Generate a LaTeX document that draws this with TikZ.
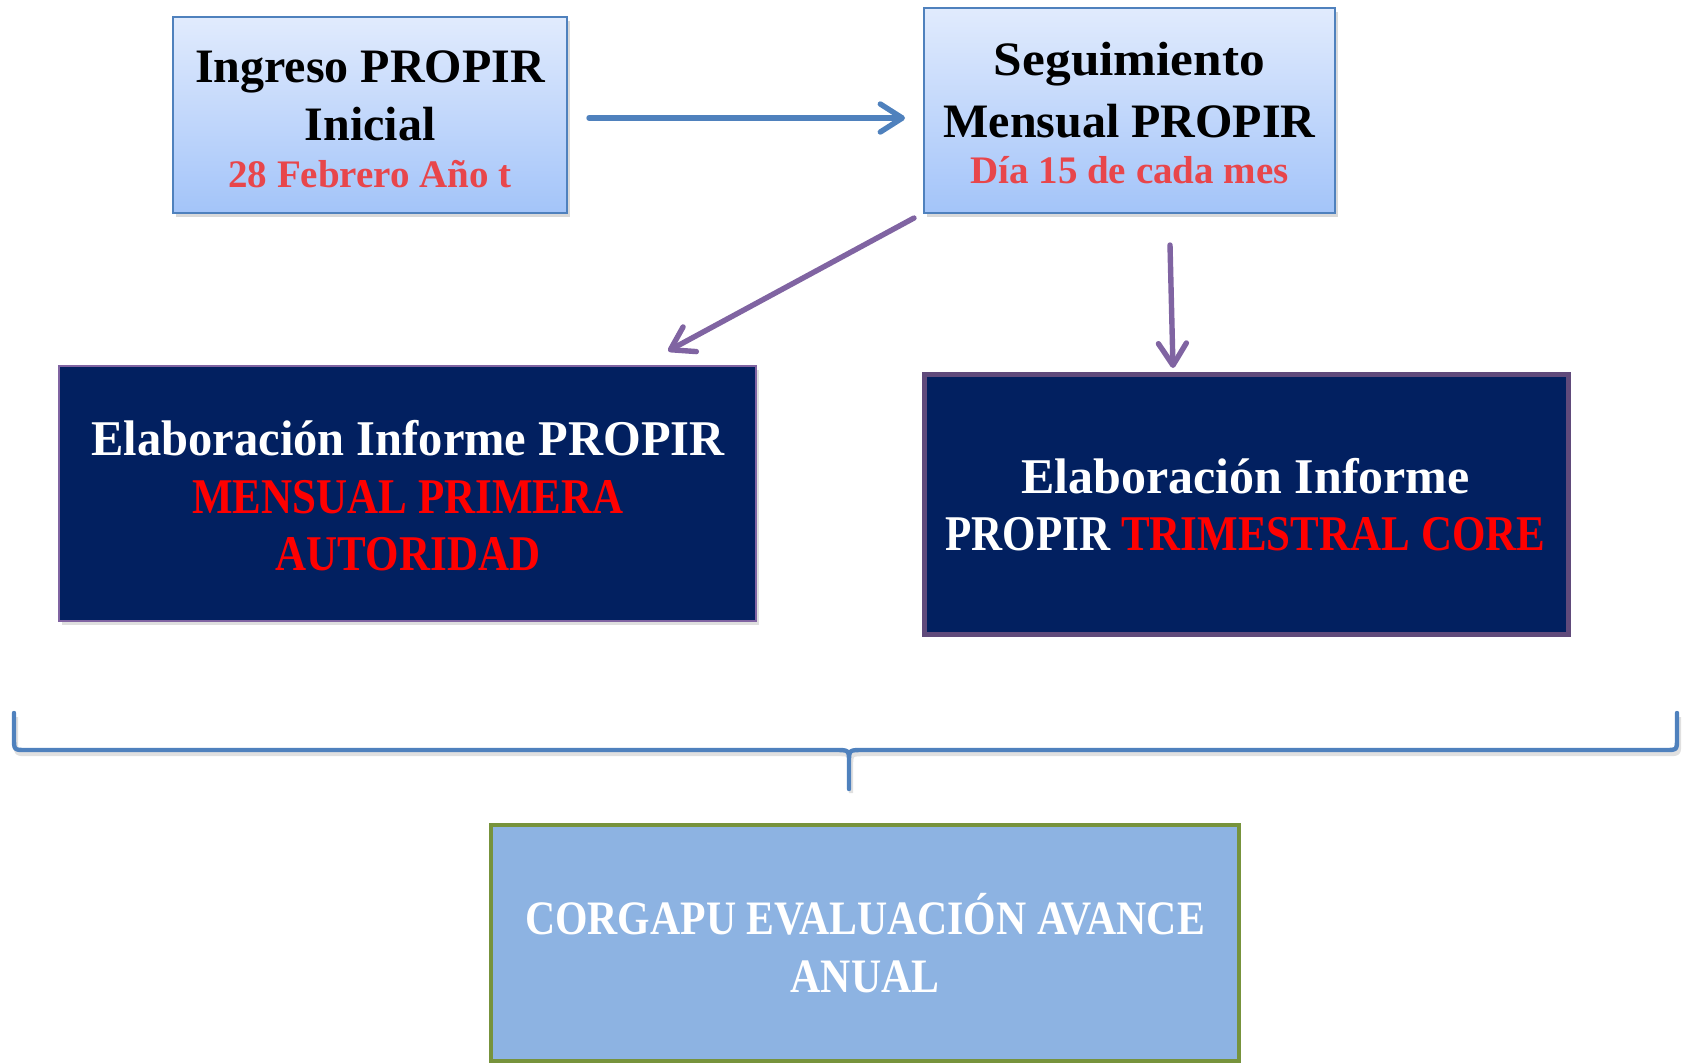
\documentclass[tikz,border=0pt]{standalone}
\usepackage{fontspec}
\setmainfont{Liberation Serif}
\newfontfamily\stretchA[FakeStretch=0.97]{Liberation Serif}
\newfontfamily\stretchD[FakeStretch=1.0]{Liberation Serif}
\newfontfamily\stretchB[FakeStretch=0.86]{Liberation Serif}
\newfontfamily\stretchC[FakeStretch=0.87]{Liberation Serif}
\newfontfamily\stretchE[FakeStretch=1.07]{Liberation Serif}
\usetikzlibrary{arrows.meta,shadows}
\definecolor{lineblue}{RGB}{79,129,189}
\definecolor{arrpurple}{RGB}{128,100,162}
\definecolor{navy}{RGB}{2,32,96}
\definecolor{boxpurple}{RGB}{96,74,123}
\definecolor{olive}{RGB}{119,147,60}
\definecolor{fillblue}{RGB}{141,179,226}
\definecolor{lighttop}{RGB}{225,235,253}
\definecolor{lightbot}{RGB}{163,196,249}
\definecolor{softred}{RGB}{232,70,75}
\definecolor{purered}{RGB}{255,0,0}
\tikzset{
  lightbox/.style={draw=lineblue, line width=1pt, top color=lighttop, bottom color=lightbot,
    inner sep=0pt, outer sep=0pt, drop shadow={shadow xshift=1.5pt, shadow yshift=-2pt, opacity=0.3}},
  darkbox/.style={fill=navy, inner sep=0pt, outer sep=0pt},
  blacktxt/.style={anchor=base, inner sep=0pt, font=\fontsize{24}{28}\selectfont\bfseries, text=black},
  redtxt/.style={anchor=base, inner sep=0pt, font=\fontsize{19.5}{23}\selectfont\bfseries, text=softred},
  whitelow/.style={anchor=base, inner sep=0pt, font=\stretchA\fontsize{25}{30}\selectfont\bfseries, text=white},
  capsred/.style={anchor=base, inner sep=0pt, font=\stretchB\fontsize{25}{30}\selectfont\bfseries, text=purered},
  capswhite/.style={anchor=base, inner sep=0pt, font=\stretchC\fontsize{24}{30}\selectfont\bfseries, text=white},
  conn/.style={line width=2.7pt, line cap=round, -{Straight Barb[length=11pt,width=14pt,round]}},
}
\begin{document}
\begin{tikzpicture}[x={(0.5pt,0)}, y={(0,-0.5pt)}]
\useasboundingbox (0,0) rectangle (1685,1062);

% boxes
\node[lightbox, minimum width=197pt, minimum height=98pt] (b1) at (370,115) {};
\node[lightbox, minimum width=205.5pt, minimum height=102.5pt] (b2) at (1129.5,110.5) {};
\node[darkbox, draw=arrpurple, line width=1pt, minimum width=348.5pt, minimum height=127.5pt,
  drop shadow={shadow xshift=1.5pt, shadow yshift=-2pt, opacity=0.25}] (b3) at (407.5,493.5) {};
\node[darkbox, draw=boxpurple, line width=2.5pt, minimum width=322pt, minimum height=130pt] (b4) at (1246,504) {};
\node[fill=fillblue, draw=olive, line width=2.2pt, inner sep=0pt, minimum width=374pt, minimum height=118pt] (b5) at (865,943) {};

% texts
\node[blacktxt] (t1a) at (370,82) {Ingreso PROPIR};
\node[blacktxt] (t1b) at (370,140) {Inicial};
\node[redtxt] (t1c) at (370,187) {28 Febrero Año t};

\node[blacktxt, font=\stretchE\fontsize{24}{28}\selectfont\bfseries] (t2a) at (1129.5,75) {Seguimiento};
\node[blacktxt] (t2b) at (1129.5,137) {Mensual PROPIR};
\node[redtxt] (t2c) at (1129.5,183) {Día 15 de cada mes};

\node[whitelow] (t3a) at (408,455) {Elaboración Informe PROPIR};
\node[capsred] (t3b) at (408,513) {MENSUAL PRIMERA};
\node[capsred] (t3c) at (408,570) {AUTORIDAD};

\node[whitelow, font=\stretchD\fontsize{25}{30}\selectfont\bfseries] (t4a) at (1245.5,493) {Elaboración Informe};
\node[capsred] (t4b) at (1245.5,550) {\color{white}PROPIR \color{purered}TRIMESTRAL CORE};

\node[capswhite] (t5a) at (865,934) {CORGAPU EVALUACIÓN AVANCE};
\node[capswhite] (t5b) at (865,992) {ANUAL};

% connectors
\draw[conn, draw=lineblue] ([xshift=11pt,yshift=-1.5pt]b1.east) -- ([xshift=-9.5pt,yshift=-3.75pt]b2.west);
\draw[conn, draw=arrpurple] ([xshift=-5pt,yshift=-2.5pt]b2.south west) -- ([xshift=130.25pt,yshift=7.5pt]b3.north);
\draw[conn, draw=arrpurple] ([xshift=20.25pt,yshift=-16pt]b2.south) -- ([xshift=-36.5pt,yshift=3pt]b4.north);

% brace
\draw[line width=2.2pt, draw=black, opacity=0.12, shift={(2,4)}]
  (14,713) -- (14,738) .. controls (14,750) .. (26,750) -- (835,750) .. controls (849,750) .. (849,762) -- (849,789)
  (849,762) .. controls (849,750) .. (863,750) -- (1665,750) .. controls (1677,750) .. (1677,738) -- (1677,713);
\draw[line width=2.2pt, draw=lineblue, line cap=round, line join=round]
  (14,713) -- (14,738) .. controls (14,750) .. (26,750) -- (835,750) .. controls (849,750) .. (849,762) -- (849,789)
  (849,762) .. controls (849,750) .. (863,750) -- (1665,750) .. controls (1677,750) .. (1677,738) -- (1677,713);
\end{tikzpicture}
\end{document}
